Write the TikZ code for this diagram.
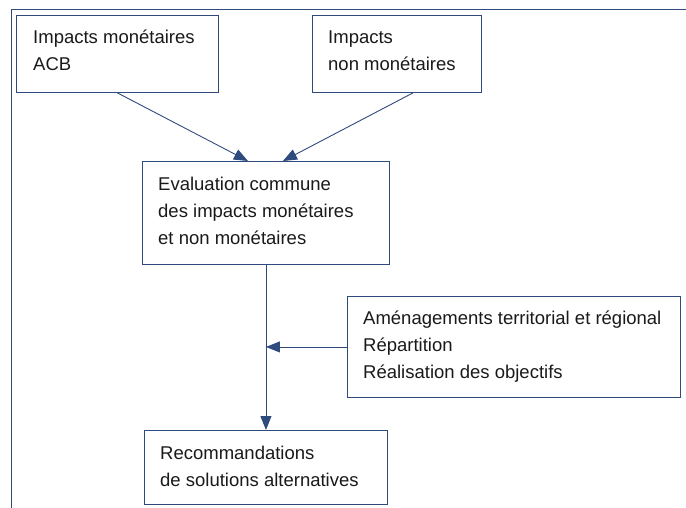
\documentclass[tikz,border=0pt]{standalone}
\usepackage{fontspec}
\setmainfont{Liberation Sans}
\usetikzlibrary{arrows.meta,calc}
\definecolor{frameblue}{HTML}{2F4A7C}
\definecolor{txt}{HTML}{1A1A1A}
\begin{document}
\begin{tikzpicture}[x=1pt,y=-1pt,
  box/.style={draw=frameblue,line width=0.9pt,fill=white,inner sep=0pt},
  label/.style={anchor=base west,align=left,inner sep=0pt,text=txt,
    font=\fontsize{18.5}{27}\selectfont},
  link/.style={draw=frameblue,line width=0.9pt,-{Triangle[length=14pt,width=11pt]}}]
\useasboundingbox (0,0) rectangle (686,508);
% outer frame (top and left edges)
\draw[frameblue,line width=0.9pt] (11,508) -- (11,9) -- (686,9);
% boxes
\node[box,minimum width=202pt,minimum height=77pt,anchor=north west] (b1) at (16,15) {};
\node[box,minimum width=169pt,minimum height=77pt,anchor=north west] (b2) at (312,15) {};
\node[box,minimum width=247pt,minimum height=103pt,anchor=north west] (b3) at (142,161) {};
\node[box,minimum width=333pt,minimum height=101pt,anchor=north west] (b4) at (347,296) {};
\node[box,minimum width=243pt,minimum height=74pt,anchor=north west] (b5) at (144,430) {};
% texts (the base anchor sits on the last line)
\node[label] (t1) at ([xshift=17pt,yshift=-56pt]b1.north west) {Impacts monétaires\\ACB};
\node[label] (t2) at ([xshift=16pt,yshift=-56pt]b2.north west) {Impacts\\non monétaires};
\node[label] (t3) at ([xshift=16pt,yshift=-83pt]b3.north west) {Evaluation commune\\des impacts monétaires\\et non monétaires};
\node[label] (t4) at ([xshift=16pt,yshift=-82pt]b4.north west) {Aménagements territorial et régional\\Répartition\\Réalisation des objectifs};
\node[label] (t5) at ([xshift=16pt,yshift=-56pt]b5.north west) {Recommandations\\de solutions alternatives};
% connectors
\coordinate (j) at (b4.west -| b3.south);
\draw[link] (b1.south) -- ([xshift=-18pt]b3.north);
\draw[link] ([xshift=16pt]b2.south) -- ([xshift=17pt]b3.north);
\draw[link] (b4.west) -- (j);
\draw[link] (b3.south) -- (b5.north);
\end{tikzpicture}
\end{document}
